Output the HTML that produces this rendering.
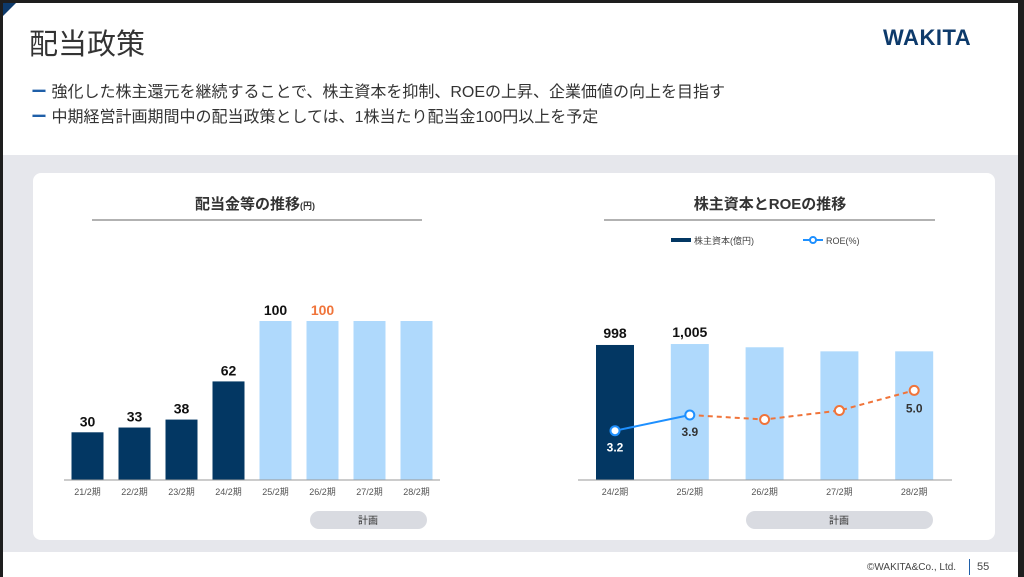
<!DOCTYPE html>
<html><head><meta charset="utf-8"><style>
body{margin:0;width:1024px;height:577px;overflow:hidden;background:#1e1e1e;font-family:"Liberation Sans","Noto Sans CJK JP",sans-serif;}
#page{position:absolute;left:3px;top:3px;width:1015px;height:574px;background:#fff;overflow:hidden}
.abs{position:absolute}
</style></head><body>
<div id="page">
<svg class="abs" style="left:0;top:0" width="14" height="14"><polygon points="0,0 13,0 0,13" fill="#0d3a6b"/></svg>
<div class="abs" style="left:26px;top:18px;font-size:29px;color:#333;">配当政策</div>
<div class="abs" style="left:880px;top:22px;font-size:22px;font-weight:bold;color:#0d3a6b;letter-spacing:0.5px">WAKITA</div>
<div class="abs" style="left:28px;top:75px;font-size:16px;color:#333"><span style="color:#1f5fa8;font-weight:bold">ー</span> 強化した株主還元を継続することで、株主資本を抑制、ROEの上昇、企業価値の向上を目指す</div>
<div class="abs" style="left:28px;top:100px;font-size:16px;color:#333"><span style="color:#1f5fa8;font-weight:bold">ー</span> 中期経営計画期間中の配当政策としては、1株当たり配当金100円以上を予定</div>
<div class="abs" style="left:0;top:152px;width:1015px;height:397px;background:#e6e7ec"></div>
<div class="abs" style="left:30px;top:170px;width:962px;height:367px;background:#fff;border-radius:8px"></div>
<div class="abs" style="left:864px;top:559px;font-size:10px;color:#444">©WAKITA&amp;Co., Ltd.</div>
<div class="abs" style="left:966px;top:556px;width:1px;height:16px;background:#1f5fa8"></div>
<div class="abs" style="left:974px;top:558px;font-size:11px;color:#444">55</div>
</div>
<svg id="ch" class="abs" style="left:0;top:0" width="1024" height="577"></svg>
<script>
const divCats=["21/2期","22/2期","23/2期","24/2期","25/2期","26/2期","27/2期","28/2期"];
const divVals=[30,33,38,62,100,100,100,100];
const divLabels=["30","33","38","62","100","100","",""];
const eqCats=["24/2期","25/2期","26/2期","27/2期","28/2期"];
const eqVals=[998,1005,981,951,951];
const eqLabels=["998","1,005","","",""];
const roeVals=[3.2,3.9,3.7,4.1,5.0];
const roeLabels=["3.2","3.9","","","5.0"];
const NS="http://www.w3.org/2000/svg";
const svg=document.getElementById('ch');
function mk(t,a,txt){const e=document.createElementNS(NS,t);for(const k in a)e.setAttribute(k,a[k]);if(txt!==undefined)e.textContent=txt;svg.appendChild(e);return e;}
const F='"Liberation Sans","Noto Sans CJK JP",sans-serif';
// left chart
const lx=i=>87.5+47*i, ly=v=>480-v*1.59;
let e;
e=mk('text',{x:255,y:209,'text-anchor':'middle','font-size':15,'font-weight':'bold',fill:'#333','font-family':F});e.innerHTML='配当金等の推移<tspan font-size="9">(円)</tspan>';


e=mk('line',{x1:92,x2:422,y1:220,y2:220,stroke:'#999','stroke-width':1.5});


divVals.forEach((v,i)=>{
 e=mk('rect',{x:lx(i)-16,y:ly(v),width:32,height:480-ly(v),fill:i<4?'#033763':'#afd9fc'});
 
 
 if(divLabels[i]){e=mk('text',{x:lx(i),y:ly(v)-6,'text-anchor':'middle','font-size':14,'font-weight':'bold',fill:i==5?'#f0743a':'#111','font-family':F},divLabels[i]);
 
 }
 e=mk('text',{x:lx(i),y:495,'text-anchor':'middle','font-size':9,fill:'#555','font-family':F},divCats[i]);
 
 
});
e=mk('line',{x1:64,x2:440,y1:480,y2:480,stroke:'#999','stroke-width':1});


e=mk('rect',{x:310,y:511,width:117,height:18,rx:9,fill:'#d9dbe1'});


e=mk('text',{x:368,y:524,'text-anchor':'middle','font-size':10,fill:'#333','font-family':F},'計画');


// right chart
const rx=i=>615+74.8*i, ry=v=>480-v*0.1353, ry2=v=>430.7-(v-3.2)*22.4;
e=mk('text',{x:770,y:209,'text-anchor':'middle','font-size':15,'font-weight':'bold',fill:'#333','font-family':F},'株主資本とROEの推移');


e=mk('line',{x1:604,x2:935,y1:220,y2:220,stroke:'#999','stroke-width':1.5});


e=mk('rect',{x:671,y:238,width:20,height:4,fill:'#033763'});


e=mk('text',{x:694,y:244,'font-size':9,fill:'#444','font-family':F},'株主資本(億円)');


e=mk('line',{x1:803,x2:823,y1:240,y2:240,stroke:'#1e90ff','stroke-width':2});


e=mk('circle',{cx:813,cy:240,r:3,fill:'#fff',stroke:'#1e90ff','stroke-width':2});


e=mk('text',{x:826,y:244,'font-size':9,fill:'#444','font-family':F},'ROE(%)');


eqVals.forEach((v,i)=>{
 e=mk('rect',{x:rx(i)-19,y:ry(v),width:38,height:480-ry(v),fill:i==0?'#033763':'#afd9fc'});
 
 
 if(eqLabels[i]){e=mk('text',{x:rx(i),y:ry(v)-7,'text-anchor':'middle','font-size':14,'font-weight':'bold',fill:'#111','font-family':F},eqLabels[i]);
 
 }
 e=mk('text',{x:rx(i),y:495,'text-anchor':'middle','font-size':9,fill:'#555','font-family':F},eqCats[i]);
 
 
});
e=mk('line',{x1:578,x2:952,y1:480,y2:480,stroke:'#999','stroke-width':1});


e=mk('line',{x1:rx(0),y1:ry2(roeVals[0]),x2:rx(1),y2:ry2(roeVals[1]),stroke:'#1e90ff','stroke-width':2});


let d='';for(let i=1;i<roeVals.length;i++)d+=(i==1?'M':'L')+rx(i)+','+ry2(roeVals[i]);
e=mk('path',{d:d,fill:'none',stroke:'#f0743a','stroke-width':2,'stroke-dasharray':'5,4'});


roeVals.forEach((v,i)=>{
 e=mk('circle',{cx:rx(i),cy:ry2(v),r:4.5,fill:'#fff',stroke:i<2?'#1e90ff':'#f0743a','stroke-width':2});
 
 
 if(roeLabels[i]){e=mk('text',{x:rx(i),y:i==4?ry2(v)-17+36:ry2(v)+21,'text-anchor':'middle','font-size':12,'font-weight':'bold',fill:i==0?'#fff':'#333','font-family':F},roeLabels[i]);
 if(i==4)e.setAttribute('y',ry2(v)+22);
 
 }
});
e=mk('rect',{x:746,y:511,width:187,height:18,rx:9,fill:'#d9dbe1'});


e=mk('text',{x:839,y:524,'text-anchor':'middle','font-size':10,fill:'#333','font-family':F},'計画');


</script>
</body></html>
